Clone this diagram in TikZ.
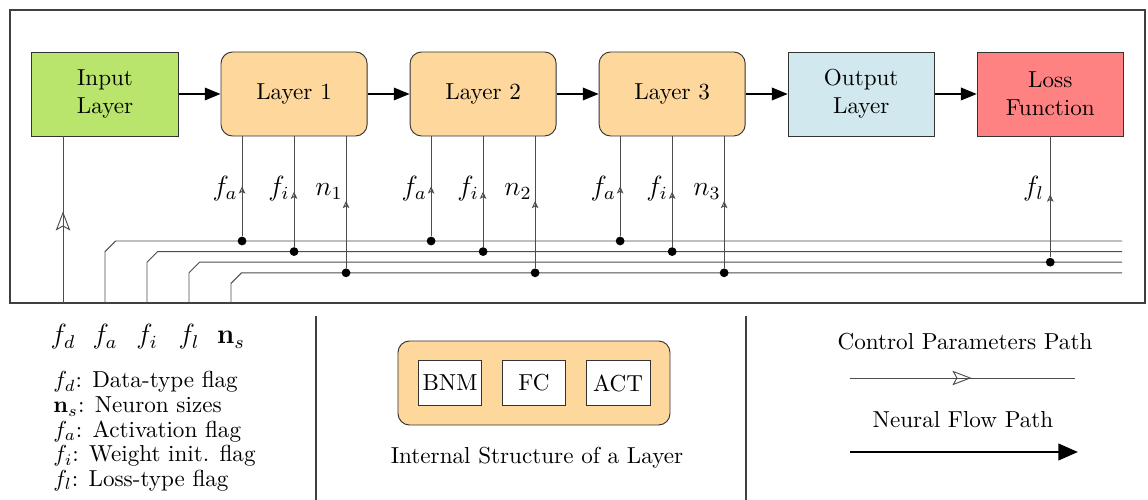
\documentclass[tikz,border=0pt]{standalone}
\usepackage{amsmath}
\usepackage{amssymb}
\usetikzlibrary{positioning, calc, arrows.meta, decorations.markings}

\definecolor{inputgreen}{HTML}{B9E56C}
\definecolor{layerorange}{HTML}{FDD79B}
\definecolor{outputblue}{HTML}{D0E8EE}
\definecolor{lossred}{HTML}{FF8282}

\begin{document}
\begin{tikzpicture}[x=0.0152cm, y=-0.0152cm, node distance=2.873cm,
	block/.style={
		rectangle,
		draw=black!80, thin,
		minimum width=2.22cm,
		minimum height=1.277cm,
		align=center,
	},
	layer/.style={block, rounded corners=5pt, fill=layerorange},
	part/.style={rectangle, draw=black!80, thin, fill=white, minimum width=0.97cm, minimum height=0.67cm, inner sep=1pt},
	flow/.style={-{Triangle[length=2.4mm,width=1.9mm]}, thick},
	wire/.style={draw=black!70, thin},
	ctrl/.style={wire, postaction={decorate}, decoration={markings, mark=at position #1 with {\arrow{Stealth[open,length=1.1mm,width=1mm,inset=0.25mm]}}}},
	ctrl/.default=0.5,
	ctrlbig/.style={wire, postaction={decorate}, decoration={markings, mark=at position #1 with {\arrow{Stealth[open,length=2.9mm,width=2.2mm,inset=0.6mm]}}}},
	dot/.style={circle, fill=black, inner sep=0pt, minimum size=3.8pt},
	flag/.style={anchor=base east, inner sep=0pt, font=\large},
	]
	\useasboundingbox (0,0) rectangle (1148,500);

	\node[block, fill=inputgreen] (in) at (105,94) {Input\\Layer};
	\node[layer, right of=in] (l1) {Layer 1};
	\node[layer, right of=l1] (l2) {Layer 2};
	\node[layer, right of=l2] (l3) {Layer 3};
	\node[block, right of=l3, fill=outputblue] (out) {Output\\Layer};
	\node[block, right of=out, fill=lossred] (loss) {Loss\\Function};

	\path[flow] (in) edge (l1)
		(l1) edge (l2)
		(l2) edge (l3)
		(l3) edge (out)
		(out) edge (loss);

	\draw[black!75, semithick] (10,10) rectangle (1145,303);

	% flag buses
	\foreach \k/\y/\f in {0/241/a, 1/251.6/i, 2/262.2/l, 3/272.8/s}{
		\coordinate (bus\f) at (105+42*\k,303);
		\coordinate (end\f) at (1122,\y);
		\draw[wire] (bus\f) -- ++(0,{\y+10.6-303}) -- ++(10.6,-10.6) -- (end\f);
	}
	\foreach \x/\t/\f in {63/f_d/d, 105/f_a/a, 147/f_i/i, 189/f_l/l, 231/\mathbf{n}_s/s}
		\node[anchor=base, font=\large] (p\f) at (\x,344) {$\t$};

	\coordinate (fdtop) at ($(in.south)+(-42,0)$);
	\coordinate (fdbot) at (63,303);
	\draw[ctrlbig=0.55] (fdbot) -- (fdtop);

	\foreach \n in {1,2,3}{
		\coordinate (fa\n) at ($(l\n.south)+(-52,0)$);
		\coordinate (fi\n) at (l\n.south);
		\coordinate (nn\n) at ($(l\n.south)+(52,0)$);
		\node[dot] (da\n) at (fa\n |- enda) {};
		\node[dot] (di\n) at (fi\n |- endi) {};
		\node[dot] (dn\n) at (nn\n |- ends) {};
		\draw[ctrl] (da\n) -- (fa\n);
		\draw[ctrl] (di\n) -- (fi\n);
		\draw[ctrl=0.51] (dn\n) -- (nn\n);
		\node[flag] (ta\n) at ($(fa\n)+(-4,59)$) {$f_a$};
		\node[flag] (ti\n) at ($(fi\n)+(-4,59)$) {$f_i$};
		\node[flag] (tn\n) at ($(nn\n)+(-3,59)$) {$n_\n$};
	}
	\node[dot] (dl) at (loss.south |- endl) {};
	\draw[ctrl=0.52] (dl) -- (loss.south);
	\node[flag] (tl) at ($(loss.south)+(-6,59)$) {$f_l$};

	% legend
	\foreach \t [count=\i] in {{$f_d$: Data-type flag}, {$\mathbf{n}_s$: Neuron sizes}, {$f_a$: Activation flag}, {$f_i$: Weight init. flag}, {$f_l$: Loss-type flag}}
		\node[anchor=base west, inner sep=0pt] (key\i) at (53,{388+24.6*(\i-1)}) {\t};

	\draw[black!75, semithick] (316,316) -- (316,500);
	\draw[black!75, semithick] (746,316) -- (746,500);

	\node[layer, minimum width=4.134cm] (inner) at (534,383) {};
	\node[part] (bnm) at (450,383) {BNM};
	\node[part, right of=bnm, node distance=1.277cm] (fc) {FC};
	\node[part, right of=fc, node distance=1.277cm] (act) {ACT};
	\node (cap) at (537,458) {Internal Structure of a Layer};

	\node (ctext) at (965,342) {Control Parameters Path};
	\coordinate (c1) at (850,378);
	\coordinate (c2) at (1075,378);
	\draw[ctrlbig=0.54] (c1) -- (c2);
	\node (ftext) at (963,420) {Neural Flow Path};
	\coordinate (f1) at (850,452);
	\coordinate (f2) at (1078,452);
	\draw[-{Triangle[length=3mm,width=2.5mm]}, line width=1.2pt] (f1) -- (f2);
\end{tikzpicture}
\end{document}
